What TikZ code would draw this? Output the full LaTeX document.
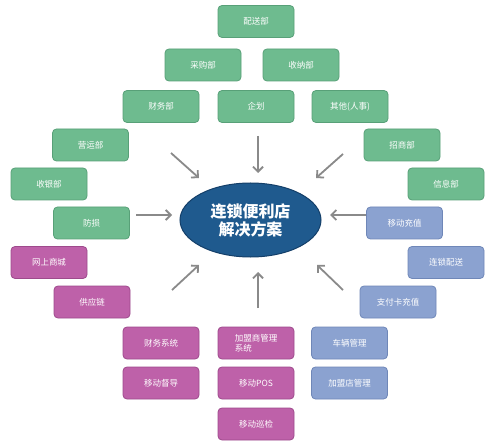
\documentclass[tikz,border=0pt]{standalone}
\usepackage{fontspec}
\setmainfont{Noto Sans CJK SC}
\newfontfamily\cjkfont{Noto Sans CJK SC}
\usetikzlibrary{arrows.meta,shapes.geometric}
\definecolor{gfill}{HTML}{6EBB8F}
\definecolor{gline}{HTML}{58A078}
\definecolor{pfill}{HTML}{BE61A9}
\definecolor{pline}{HTML}{9E4A8C}
\definecolor{bfill}{HTML}{8BA2D0}
\definecolor{bline}{HTML}{6F87B8}
\definecolor{efill}{HTML}{1F5A8E}
\definecolor{eline}{HTML}{143F69}
\definecolor{agray}{HTML}{8A8A8A}
\tikzset{
  boxbase/.style={rectangle, rounded corners=4pt, minimum width=76pt, minimum height=32pt, inner sep=1pt, line width=0.8pt, text=white, font=\cjkfont\fontsize{8.5}{10}\selectfont},
  gbox/.style={boxbase, fill=gfill, draw=gline},
  pbox/.style={boxbase, fill=pfill, draw=pline},
  bbox/.style={boxbase, fill=bfill, draw=bline},
  arr/.style={draw=agray, line width=1.8pt, -{Straight Barb[length=5pt,width=10pt]}},
}
\begin{document}
\begin{tikzpicture}[x=1pt,y=-1pt]
\useasboundingbox[fill=white] (0,0) rectangle (491,444);
% green boxes
\node[gbox] (ps) at (256,21.5) {配送部};
\node[gbox] (cg) at (203,65) {采购部};
\node[gbox] (sn) at (301,65) {收纳部};
\node[gbox] (cw) at (161,106.5) {财务部};
\node[gbox] (qh) at (256,106.5) {企划};
\node[gbox] (qt) at (350,106.5) {其他(人事)};
\node[gbox] (yy) at (90.5,145) {营运部};
\node[gbox] (zs) at (402,145) {招商部};
\node[gbox] (sy) at (49,184) {收银部};
\node[gbox] (xx) at (446,184) {信息部};
\node[gbox] (fs) at (91.5,223) {防损};
% blue boxes
\node[bbox] (yc) at (404.5,223) {移动充值};
\node[bbox] (lp) at (446,262.5) {连锁配送};
\node[bbox] (zf) at (398,302) {支付卡充值};
\node[bbox] (cl) at (349.5,343) {车辆管理};
\node[bbox] (jd) at (349.5,383) {加盟店管理};
% purple boxes
\node[pbox] (ws) at (49,262.5) {网上商城};
\node[pbox] (gy) at (92,302) {供应链};
\node[pbox] (cx) at (161,343) {财务系统};
\node[pbox, align=left] (jm) at (256,343) {加盟商管理\\系统};
\node[pbox] (yd) at (161,383) {移动督导};
\node[pbox] (pos) at (256,383) {移动POS};
\node[pbox] (xj) at (256,424) {移动巡检};
% center
\node[ellipse, minimum width=141pt, minimum height=74pt, fill=efill, draw=eline, line width=1pt, text=white, align=center, font=\cjkfont\bfseries\fontsize{16}{18}\selectfont, inner sep=0pt] (c) at (250.5,220) {连锁便利店\\解决方案};
% arrow end points
\coordinate (a1s) at (258,136); \coordinate (a1e) at (258,173);
\coordinate (a2s) at (171,153); \coordinate (a2e) at (199,178);
\coordinate (a3s) at (343,154); \coordinate (a3e) at (316,178);
\coordinate (a4s) at (136,215); \coordinate (a4e) at (172,215);
\coordinate (a5s) at (366,215); \coordinate (a5e) at (330,215);
\coordinate (a6s) at (172,290); \coordinate (a6e) at (199,265);
\coordinate (a7s) at (343,290); \coordinate (a7e) at (317,265);
\coordinate (a8s) at (258,308); \coordinate (a8e) at (258,272);
\foreach \i in {1,...,8} { \draw[arr] (a\i s) -- (a\i e); }
\end{tikzpicture}
\end{document}
